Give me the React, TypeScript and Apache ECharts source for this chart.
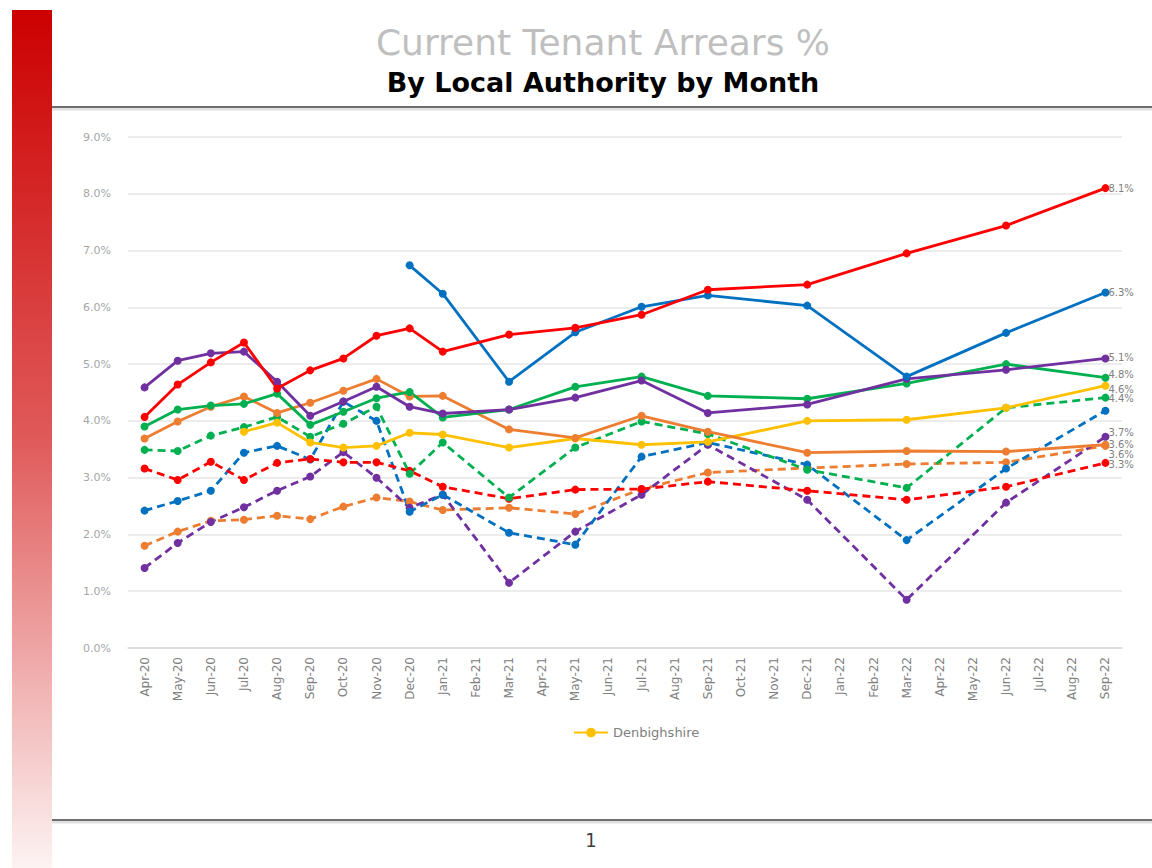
import React, { useEffect, useRef } from "react";
import * as echarts from "echarts";

const months = [
  "Apr-20", "May-20", "Jun-20", "Jul-20", "Aug-20", "Sep-20", "Oct-20", "Nov-20", "Dec-20", "Jan-21",
  "Feb-21", "Mar-21", "Apr-21", "May-21", "Jun-21", "Jul-21", "Aug-21", "Sep-21", "Oct-21", "Nov-21",
  "Dec-21", "Jan-22", "Feb-22", "Mar-22", "Apr-22", "May-22", "Jun-22", "Jul-22", "Aug-22", "Sep-22",
];

const yTicks = [0, 1, 2, 3, 4, 5, 6, 7, 8, 9];

const solidRed = [4.07, 4.64, 5.03, 5.38, 4.57, 4.89, 5.1, 5.5, 5.63, 5.22, null, 5.52, null, 5.64, null, 5.87, null, 6.31, null, null, 6.4, null, null, 6.95, null, null, 7.44, null, null, 8.1];
const solidBlue = [null, null, null, null, null, null, null, null, 6.74, 6.24, null, 4.69, null, 5.56, null, 6.01, null, 6.21, null, null, 6.03, null, null, 4.78, null, null, 5.55, null, null, 6.26];
const solidPurple = [4.59, 5.06, 5.19, 5.22, 4.69, 4.09, 4.34, 4.6, 4.25, 4.13, null, 4.2, null, 4.41, null, 4.71, null, 4.14, null, null, 4.29, null, null, 4.74, null, null, 4.9, null, null, 5.1];
const solidGreen = [3.9, 4.2, 4.27, 4.3, 4.48, 3.93, 4.16, 4.4, 4.51, 4.06, null, 4.2, null, 4.6, null, 4.78, null, 4.44, null, null, 4.39, null, null, 4.66, null, null, 5.0, null, null, 4.76];
const solidOrange = [3.69, 3.99, 4.25, 4.43, 4.14, 4.32, 4.53, 4.74, 4.43, 4.44, null, 3.85, null, 3.7, null, 4.09, null, 3.81, null, null, 3.44, null, null, 3.47, null, null, 3.46, null, null, 3.58];
const denbighshire = [null, null, null, 3.81, 3.97, 3.62, 3.53, 3.56, 3.79, 3.76, null, 3.53, null, 3.69, null, 3.58, null, 3.63, null, null, 4.0, null, null, 4.02, null, null, 4.23, null, null, 4.62];
const dashedGreen = [3.49, 3.47, 3.74, 3.89, 4.07, 3.72, 3.95, 4.25, 3.07, 3.62, null, 2.65, null, 3.53, null, 3.99, null, 3.77, null, null, 3.14, null, null, 2.82, null, null, 4.23, null, null, 4.41];
const dashedRed = [3.16, 2.96, 3.28, 2.96, 3.26, 3.33, 3.27, 3.27, 3.12, 2.84, null, 2.63, null, 2.79, null, 2.8, null, 2.93, null, null, 2.77, null, null, 2.61, null, null, 2.84, null, null, 3.26];
const dashedBlue = [2.42, 2.59, 2.77, 3.44, 3.56, 3.32, 4.34, 4.0, 2.4, 2.7, null, 2.03, null, 1.82, null, 3.37, null, 3.62, null, null, 3.23, null, null, 1.9, null, null, 3.16, null, null, 4.18];
const dashedPurple = [1.41, 1.85, 2.22, 2.48, 2.77, 3.02, 3.45, 3.0, 2.47, 2.7, null, 1.15, null, 2.05, null, 2.7, null, 3.58, null, null, 2.61, null, null, 0.85, null, null, 2.56, null, null, 3.72];
const dashedOrange = [1.8, 2.05, 2.24, 2.26, 2.33, 2.27, 2.49, 2.65, 2.58, 2.43, null, 2.47, null, 2.36, null, 2.8, null, 3.09, null, null, 3.17, null, null, 3.24, null, null, 3.27, null, null, 3.56];

const seriesDefs = [
  { name: "Authority 7", data: dashedOrange, color: "#ed7d31", dashed: true, endLabel: true, labelDy: 9 },
  { name: "Authority 8", data: dashedPurple, color: "#7030a0", dashed: true, endLabel: true, labelDy: -4 },
  { name: "Authority 9", data: dashedBlue, color: "#0070c0", dashed: true, endLabel: false, labelDy: 0 },
  { name: "Authority 10", data: dashedRed, color: "#ff0000", dashed: true, endLabel: true, labelDy: 2 },
  { name: "Authority 11", data: dashedGreen, color: "#00b050", dashed: true, endLabel: true, labelDy: 1 },
  { name: "Denbighshire", data: denbighshire, color: "#ffc000", dashed: false, endLabel: true, labelDy: 4 },
  { name: "Authority 5", data: solidOrange, color: "#ed7d31", dashed: false, endLabel: true, labelDy: 0 },
  { name: "Authority 4", data: solidGreen, color: "#00b050", dashed: false, endLabel: true, labelDy: -3 },
  { name: "Authority 3", data: solidPurple, color: "#7030a0", dashed: false, endLabel: true, labelDy: -1 },
  { name: "Authority 2", data: solidBlue, color: "#0070c0", dashed: false, endLabel: true, labelDy: 0 },
  { name: "Authority 1", data: solidRed, color: "#ff0000", dashed: false, endLabel: true, labelDy: 0 },
];

const FONT = "DejaVu Sans";

export default function App() {
  const ref = useRef<HTMLDivElement>(null);
  useEffect(() => {
    document.body.style.margin = "0";
    const chart = echarts.init(ref.current!, null, { renderer: "svg" });
    const last = months.length - 1;
    const series = seriesDefs.map((s) => ({
      name: s.name,
      type: "line",
      connectNulls: true,
      symbol: "circle",
      symbolSize: 8,
      showSymbol: true,
      z: s.dashed ? 2 : 3,
      itemStyle: { color: s.color },
      lineStyle: { color: s.color, width: 2.8, type: s.dashed ? [8, 5] : "solid" },
      data: s.data.map((v, i) =>
        i === last && s.endLabel && v != null
          ? {
              value: v,
              label: {
                show: true,
                position: "right",
                distance: -1,
                offset: [0, s.labelDy],
                color: "#808080",
                fontSize: 10,
                fontFamily: FONT,
                formatter: (p: any) => Number(p.value).toFixed(1) + "%",
              },
            }
          : v
      ),
    }));

    chart.setOption({
      animation: false,
      backgroundColor: "#ffffff",
      textStyle: { fontFamily: FONT },
      graphic: [
        {
          type: "rect",
          shape: { x: 12, y: 10, width: 40, height: 858 },
          style: {
            fill: new echarts.graphic.LinearGradient(0, 0, 0, 1, [
              { offset: 0, color: "#cc0000" },
              { offset: 0.5, color: "#e05a5a" },
              { offset: 1, color: "#fdf3f3" },
            ]),
          },
          silent: true,
        },
        {
          type: "line",
          shape: { x1: 52, y1: 109, x2: 1152, y2: 109 },
          style: { stroke: "#e0e0e0", lineWidth: 3 },
          silent: true,
        },
        {
          type: "line",
          shape: { x1: 52, y1: 107, x2: 1152, y2: 107 },
          style: { stroke: "#6e6e6e", lineWidth: 2 },
          silent: true,
        },
        {
          type: "line",
          shape: { x1: 52, y1: 822, x2: 1152, y2: 822 },
          style: { stroke: "#e0e0e0", lineWidth: 3 },
          silent: true,
        },
        {
          type: "line",
          shape: { x1: 52, y1: 820, x2: 1152, y2: 820 },
          style: { stroke: "#6e6e6e", lineWidth: 2 },
          silent: true,
        },
        {
          type: "text",
          x: 603,
          y: 24,
          style: {
            text: "Current Tenant Arrears %",
            fill: "#bfbfbf",
            font: "36px 'DejaVu Sans'",
            textAlign: "center",
            textVerticalAlign: "top",
          },
        },
        {
          type: "text",
          x: 603,
          y: 69,
          style: {
            text: "By Local Authority by Month",
            fill: "#000000",
            font: "bold 27px 'DejaVu Sans'",
            textAlign: "center",
            textVerticalAlign: "top",
          },
        },
        {
          type: "text",
          x: 591,
          y: 840,
          style: {
            text: "1",
            fill: "#404040",
            font: "20px 'DejaVu Sans Condensed'",
            textAlign: "center",
            textVerticalAlign: "middle",
          },
        },
      ],
      legend: {
        data: ["Denbighshire"],
        left: 568,
        top: 721,
        itemWidth: 34,
        itemHeight: 12,
        itemGap: 10,
        textStyle: { color: "#808080", fontSize: 13, fontFamily: FONT },
      },
      grid: { left: 128, right: 30, top: 137, bottom: 220 },
      xAxis: {
        type: "category",
        data: months,
        boundaryGap: true,
        axisLine: { lineStyle: { color: "#d9d9d9", width: 1.5 } },
        axisTick: { show: false },
        axisLabel: {
          rotate: 90,
          interval: 0,
          color: "#808080",
          fontSize: 12,
          margin: 9,
          fontFamily: FONT,
        },
      },
      yAxis: {
        type: "value",
        min: yTicks[0],
        max: yTicks[yTicks.length - 1],
        interval: 1,
        axisLine: { show: false },
        axisTick: { show: false },
        splitLine: { lineStyle: { color: "#e6e6e6", width: 1.5 } },
        axisLabel: {
          color: "#a6a6a6",
          fontSize: 11,
          margin: 17,
          fontFamily: FONT,
          formatter: (v: number) => v.toFixed(1) + "%",
        },
      },
      series,
    });
    return () => chart.dispose();
  }, []);
  return <div ref={ref} style={{ width: 1152, height: 868 }} />;
}
